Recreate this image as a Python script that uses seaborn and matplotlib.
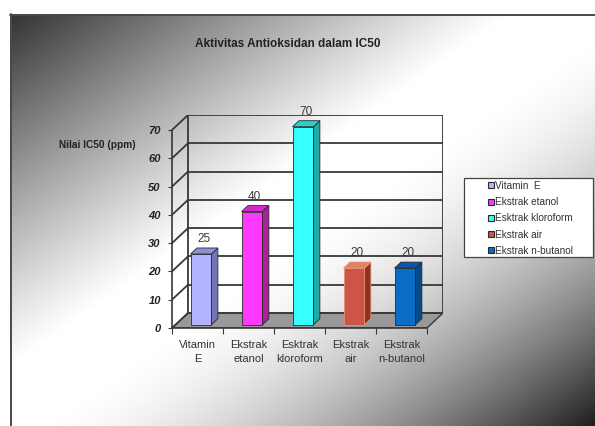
import numpy as np
import pandas as pd
import matplotlib
matplotlib.use("Agg")
import matplotlib.pyplot as plt
from matplotlib import font_manager as fm
from matplotlib.patches import Polygon, Rectangle
import seaborn as sns

# ---- data ----
series_names = ["Vitamin  E", "Ekstrak etanol", "Esktrak kloroform", "Ekstrak air", "Ekstrak n-butanol"]
tick_labels = ["Vitamin\nE", "Ekstrak\netanol", "Esktrak\nkloroform", "Ekstrak\nair", "Ekstrak\nn-butanol"]
ic50_values = [25, 40, 70, 20, 20]
y_ticks = [0, 10, 20, 30, 40, 50, 60, 70]

front_colors = ["#B3B3FF", "#FF38FF", "#38FFFF", "#CC5548", "#0A6CC4"]
side_colors = ["#7474B8", "#A8229E", "#22A8A8", "#8E3228", "#064A8A"]
top_colors = ["#9090D8", "#D02AD0", "#2AD0D0", "#E48060", "#0858A6"]
edge_colors = ["#2a2a2a", "#2a2a2a", "#2a2a2a", "#E89070", "#2a2a2a"]

title = "Aktivitas Antioksidan dalam IC50"
y_title = "Nilai IC50 (ppm)"

sns.set_style("white")
installed = {f.name for f in fm.fontManager.ttflist}
family = ["Liberation Sans", "DejaVu Sans"]
family = [f for f in family if f in installed] or ["DejaVu Sans"]
plt.rcParams["font.family"] = family

W, H = 595, 426
fig = plt.figure(figsize=(W / 100, H / 100), dpi=100)

# ---- gradient background of the chart area ----
bg = fig.add_axes([0, 0, 1, 1], zorder=0)
bg.set_xlim(0, W)
bg.set_ylim(H, 0)
bg.axis("off")
gx, gy = np.meshgrid(np.linspace(0, 1, 400), np.linspace(0, 1, 300))
t = (gx + gy) / 2
v = np.ones_like(t)
lo = t < 0.43
v[lo] = 1 - 0.80 * (1 - t[lo] / 0.43) ** 1.1
hi = t > 0.52
v[hi] = 1 - 0.88 * ((t[hi] - 0.52) / 0.48) ** 1.6
bg.imshow(v, cmap="gray", vmin=0, vmax=1, extent=(10, W, H, 14),
          aspect="auto", interpolation="bilinear")
bg.plot([10, W], [14.5, 14.5], color="#4a4a4a", lw=1.4)
bg.plot([10.5, 10.5], [14, H], color="#4a4a4a", lw=1.4)
# legend box
bg.add_patch(Rectangle((464, 178), 129, 79, facecolor="white",
                       edgecolor="#444444", lw=0.9, zorder=2))

# ---- plot area with oblique depth ----
DX = 16 / 51.0      # depth offset along x (category units)
DY = 15 / 2.83      # depth offset along y (value units)
ZF, ZB = 0.22, 0.62  # bar front / back depth fractions

ax = fig.add_axes([172 / W, 1 - 328 / H, 271 / W, 213 / H], zorder=1)
ax.patch.set_alpha(0)

df = pd.DataFrame({"sampel": series_names, "ic50": ic50_values})
sns.barplot(data=df, x="sampel", y="ic50", hue="sampel", palette=front_colors,
            width=0.41, edgecolor="#2a2a2a", linewidth=0.6, saturation=1,
            legend=True, ax=ax)
bars = [p for c in ax.containers for p in c
        if p.get_width() > 0 and np.isfinite(p.get_height()) and p.get_height() > 0]
bars = sorted(bars, key=lambda p: p.get_x())

ax.set_xlim(-0.5, 4.5 + DX)
ax.set_ylim(0, 70 + DY)

line_kw = dict(color="#383838", lw=1.3, zorder=1)
# floor
ax.add_patch(Polygon([(-0.5, 0), (4.5, 0), (4.5 + DX, DY), (-0.5 + DX, DY)],
                     closed=True, facecolor="#999999", edgecolor="#383838",
                     lw=1.0, zorder=0.5))
# back wall grid and side wall lines
for yv in y_ticks:
    ax.plot([-0.5 + DX, 4.5 + DX], [yv + DY, yv + DY], **line_kw)
    ax.plot([-0.5, -0.5 + DX], [yv, yv + DY], **line_kw)
ax.plot([-0.5 + DX, -0.5 + DX], [DY, 70 + DY], **line_kw)
ax.plot([4.5 + DX, 4.5 + DX], [DY, 70 + DY], **line_kw)

# bars: shift front faces into depth and add side/top faces
for p in bars:
    x0, w, h = p.get_x(), p.get_width(), p.get_height()
    k = int(round(x0 + w / 2))
    p.set_x(x0 + ZF * DX)
    p.set_y(ZF * DY)
    p.set_zorder(3)
    p.set_edgecolor(edge_colors[k])
    xa, xb = x0 + ZF * DX, x0 + ZB * DX
    ya, yb = ZF * DY, ZB * DY
    ax.add_patch(Polygon([(xa + w, ya), (xb + w, yb), (xb + w, h + yb), (xa + w, h + ya)],
                         closed=True, facecolor=side_colors[k], edgecolor=edge_colors[k],
                         lw=0.6, zorder=3))
    ax.add_patch(Polygon([(xa, h + ya), (xa + w, h + ya), (xb + w, h + yb), (xb, h + yb)],
                         closed=True, facecolor=top_colors[k], edgecolor=edge_colors[k],
                         lw=0.6, zorder=3))
    ax.text(x0 + w / 2 + ZF * DX + 0.05, h + yb + 1.0, f"{h:g}", ha="center",
            va="bottom", fontsize=8.5, color="#3a3a3a", zorder=4)

# axes
for s in ["top", "right"]:
    ax.spines[s].set_visible(False)
for s in ["left", "bottom"]:
    ax.spines[s].set_color("#383838")
    ax.spines[s].set_linewidth(1.2)
ax.spines["left"].set_bounds(0, 70)
ax.spines["bottom"].set_bounds(-0.5, 4.5)
ax.set_yticks(y_ticks)
ax.set_yticklabels([str(t_) for t_ in y_ticks], fontsize=8, fontweight="bold",
                   fontstyle="italic", color="#222222")
ax.tick_params(axis="y", length=3, width=0.8, color="#383838", pad=5, left=True)
ax.set_xticks(range(len(tick_labels)))
ax.set_xticklabels(tick_labels, fontsize=8, color="#333333", linespacing=1.5)
ax.set_xticks(np.arange(-0.5, 5.0, 1.0), minor=True)
ax.tick_params(axis="x", which="major", length=0, pad=9)
ax.tick_params(axis="x", which="minor", length=4, width=0.8, color="#383838",
               direction="out", bottom=True)
ax.set_xlabel("")
ax.set_ylabel("")

# legend entries (frame drawn above)
handles, labels = ax.get_legend_handles_labels()
if ax.get_legend() is not None:
    ax.get_legend().remove()
for hnd in handles:
    hnd.set_edgecolor("#2a2a2a")
    hnd.set_linewidth(0.8)
leg = ax.legend(handles, series_names, loc="upper left",
                bbox_to_anchor=(486 / W, 1 - 179 / H), bbox_transform=fig.transFigure,
                frameon=False, fontsize=7.2, handlelength=0.55,
                handleheight=0.55, handletextpad=0.15, labelspacing=0.62,
                borderpad=0.2, borderaxespad=0)
for txt in leg.get_texts():
    txt.set_color("#333333")
leg.set_zorder(5)

fig.text(288 / W, 1 - 44 / H, title, ha="center", va="center",
         fontsize=8.5, fontweight="bold", color="#222222")
fig.text(97 / W, 1 - 145 / H, y_title, ha="center", va="center",
         fontsize=7.3, fontweight="bold", color="#222222")

fig.savefig("out.png", dpi=100)
